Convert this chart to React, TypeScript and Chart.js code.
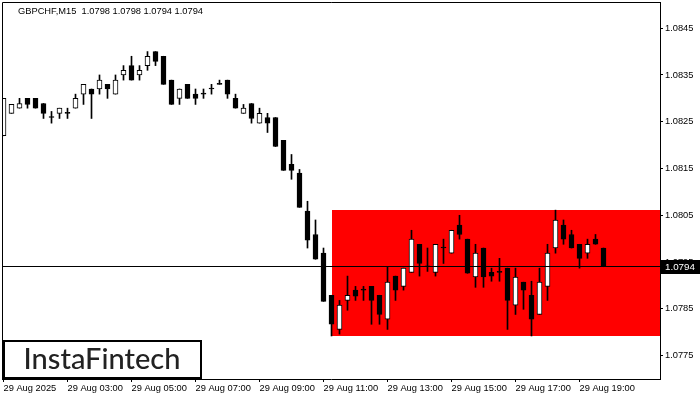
import React, { useEffect, useRef } from "react";
import { Chart, registerables } from "chart.js";

Chart.register(...registerables);

const SYMBOL = "GBPCHF,M15";

const opens = [
  1.0822, 1.08268, 1.08279, 1.083, 1.083, 1.08289, 1.08259, 1.08268, 1.08268, 1.08279,
  1.08309, 1.0832, 1.0832, 1.0833, 1.08309, 1.0835, 1.0837, 1.0835, 1.0837, 1.084,
  1.0839, 1.08339, 1.083, 1.0833, 1.08309, 1.08309, 1.0832, 1.0833, 1.08339, 1.083,
  1.08268, 1.08289, 1.08247, 1.08259, 1.08259, 1.0821, 1.08159, 1.0814, 1.08059, 1.08009,
  1.07969, 1.07879, 1.07806, 1.07868, 1.0789, 1.0789, 1.07898, 1.07879, 1.07828, 1.0792,
  1.07898, 1.07928, 1.07988, 1.0794, 1.07928, 1.0798, 1.07969, 1.08029, 1.07999, 1.07918,
  1.0798, 1.07928, 1.07928, 1.07937, 1.07858, 1.07907, 1.07879, 1.07838, 1.07898, 1.0798,
  1.08029, 1.08009, 1.07988, 1.07969, 1.07999, 1.0798,
];
const highs = [
  1.083, 1.08287, 1.083, 1.083, 1.083, 1.08289, 1.08272, 1.08279, 1.08279, 1.08309,
  1.0833, 1.0832, 1.0835, 1.0833, 1.0835, 1.0837, 1.0839, 1.0837, 1.084, 1.084,
  1.0839, 1.08339, 1.0832, 1.0833, 1.0832, 1.0832, 1.0833, 1.08339, 1.08339, 1.08309,
  1.08287, 1.08289, 1.08279, 1.08268, 1.08259, 1.0821, 1.0818, 1.08148, 1.0808, 1.0804,
  1.0798, 1.07879, 1.07868, 1.0792, 1.07898, 1.07898, 1.07898, 1.07879, 1.0794, 1.0792,
  1.07937, 1.08018, 1.07988, 1.0798, 1.07988, 1.07999, 1.08018, 1.0805, 1.07999, 1.07988,
  1.0798, 1.07937, 1.07958, 1.07937, 1.07937, 1.07907, 1.07909, 1.07937, 1.07988, 1.08061,
  1.0804, 1.08018, 1.07988, 1.07999, 1.08009, 1.0798,
];
const lows = [
  1.0822, 1.08268, 1.08279, 1.08279, 1.08279, 1.08257, 1.08247, 1.08257, 1.08257, 1.08279,
  1.08287, 1.08257, 1.08309, 1.083, 1.08309, 1.08339, 1.08339, 1.08339, 1.0836, 1.0837,
  1.0833, 1.08287, 1.08287, 1.083, 1.08287, 1.083, 1.08309, 1.0833, 1.083, 1.08279,
  1.08268, 1.08247, 1.08247, 1.08227, 1.08197, 1.08146, 1.08127, 1.08067, 1.0798, 1.07956,
  1.07866, 1.07792, 1.07796, 1.07847, 1.07868, 1.07868, 1.07817, 1.07817, 1.07806, 1.07868,
  1.0789, 1.07928, 1.0792, 1.0793, 1.0792, 1.07947, 1.07969, 1.07999, 1.07926, 1.07896,
  1.07896, 1.07909, 1.07909, 1.07806, 1.07838, 1.07849, 1.07792, 1.07838, 1.07868, 1.07969,
  1.07988, 1.0798, 1.07937, 1.07958, 1.07988, 1.0794,
];
const closes = [
  1.083, 1.08287, 1.08289, 1.08287, 1.08279, 1.08268, 1.08259, 1.08279, 1.08268, 1.083,
  1.0833, 1.08309, 1.08339, 1.0832, 1.08339, 1.0836, 1.08339, 1.0836, 1.0839, 1.08379,
  1.0833, 1.08287, 1.0832, 1.083, 1.083, 1.08309, 1.0832, 1.0833, 1.08309, 1.08279,
  1.08279, 1.08257, 1.08268, 1.08247, 1.08197, 1.08146, 1.08146, 1.08067, 1.07997, 1.07956,
  1.07866, 1.07817, 1.07858, 1.07879, 1.07877, 1.0789, 1.07868, 1.07838, 1.07907, 1.0789,
  1.07937, 1.07999, 1.07947, 1.0794, 1.07988, 1.0798, 1.08018, 1.08009, 1.07926, 1.07969,
  1.07918, 1.0792, 1.07928, 1.07868, 1.07918, 1.0789, 1.07828, 1.07907, 1.07969, 1.0804,
  1.07999, 1.0798, 1.07958, 1.07988, 1.07988, 1.0794,
];

const xTickIndex = [0, 8, 16, 24, 32, 40, 48, 56, 64, 72];
const xTickLabels = [
  "29 Aug 2025", "29 Aug 03:00", "29 Aug 05:00", "29 Aug 07:00", "29 Aug 09:00",
  "29 Aug 11:00", "29 Aug 13:00", "29 Aug 15:00", "29 Aug 17:00", "29 Aug 19:00",
];
const yTickValues = [1.0775, 1.0785, 1.0795, 1.0805, 1.0815, 1.0825, 1.0835, 1.0845];

const Y_MIN = 1.077;
const Y_MAX = 1.08506;
const X_MIN = -0.1875;
const X_MAX = 82.0625;

const BID = 1.0794;
const ZONE_START = 41;
const ZONE_TOP = 1.08061;
const ZONE_BOTTOM = 1.07792;

const FONT = "Liberation Sans";
const FONT_SIZE = 9.3;

const overlayPlugin = {
  id: "overlay",
  beforeDraw(chart: any) {
    const ctx = chart.ctx;
    ctx.save();
    ctx.fillStyle = "#ffffff";
    ctx.fillRect(0, 0, chart.width, chart.height);
    ctx.restore();
  },
  beforeDatasetsDraw(chart: any) {
    const { ctx, chartArea: a, scales } = chart;
    const x0 = Math.round(scales.x.getPixelForValue(ZONE_START));
    const y0 = Math.round(scales.y.getPixelForValue(ZONE_TOP));
    const y1 = Math.round(scales.y.getPixelForValue(ZONE_BOTTOM));
    ctx.save();
    ctx.fillStyle = "#ff0000";
    ctx.fillRect(x0, y0, a.right - x0, y1 - y0);
    ctx.restore();
  },
  afterDatasetsDraw(chart: any) {
    const { ctx, chartArea: a, scales } = chart;
    const yb = Math.round(scales.y.getPixelForValue(BID)) - 0.5;
    ctx.save();
    ctx.strokeStyle = "#000";
    ctx.lineWidth = 1;
    ctx.beginPath();
    ctx.moveTo(a.left, yb);
    ctx.lineTo(a.right, yb);
    ctx.stroke();
    ctx.restore();
  },
  afterDraw(chart: any) {
    const { ctx, chartArea: a, scales } = chart;
    ctx.save();
    ctx.strokeStyle = "#000";
    ctx.lineWidth = 1;
    ctx.beginPath();
    ctx.moveTo(a.left + 0.5, a.bottom);
    ctx.lineTo(a.left + 0.5, a.top + 0.5);
    ctx.lineTo(a.right + 1, a.top + 0.5);
    ctx.stroke();

    const yb = scales.y.getPixelForValue(BID);
    ctx.fillStyle = "#000";
    ctx.fillRect(a.right + 1, Math.round(yb) - 7, chart.width - a.right - 1, 14);
    ctx.fillStyle = "#fff";
    ctx.font = `${FONT_SIZE + 0.5}px "${FONT}"`;
    ctx.textBaseline = "middle";
    ctx.textAlign = "left";
    ctx.fillText(BID.toFixed(4), a.right + 5, Math.round(yb));

    const n = opens.length - 1;
    ctx.fillStyle = "#000";
    ctx.font = `${FONT_SIZE}px "${FONT}"`;
    ctx.fillText(
      `${SYMBOL}  ${opens[n].toFixed(4)} ${highs[n].toFixed(4)} ${lows[n].toFixed(4)} ${closes[n].toFixed(4)}`,
      18,
      11
    );

    ctx.fillStyle = "#fff";
    ctx.fillRect(4, 341, 197, 37);
    ctx.strokeStyle = "#000";
    ctx.lineWidth = 2;
    ctx.strokeRect(4, 341, 197, 37);
    ctx.fillStyle = "#222";
    ctx.font = `500 29px "Lato"`;
    ctx.textAlign = "center";
    ctx.textBaseline = "middle";
    ctx.fillText("InstaFintech", 102, 360);
    ctx.restore();
  },
};

export default function App() {
  const ref = useRef<HTMLCanvasElement | null>(null);

  useEffect(() => {
    if (!ref.current) return;
    const bodies = opens.map((o, i) => ({ x: i, y: [o, closes[i]] }));
    const wicks = lows.map((l, i) => ({ x: i, y: [l, highs[i]] }));
    const bodyColors = opens.map((o, i) => (closes[i] > o ? "#ffffff" : "#000000"));

    const chart = new Chart(ref.current, {
      type: "bar",
      data: {
        datasets: [
          {
            data: bodies as any,
            backgroundColor: bodyColors,
            borderColor: "#000000",
            borderWidth: 1,
            borderSkipped: false,
            barThickness: 5,
            minBarLength: 1,
            grouped: false,
            order: 1,
          } as any,
          {
            data: wicks as any,
            backgroundColor: "#000000",
            borderWidth: 0,
            barThickness: 1,
            grouped: false,
            order: 2,
          } as any,
        ],
      },
      options: {
        responsive: false,
        animation: false,
        devicePixelRatio: 1,
        layout: { padding: { left: 2, top: 2, right: 0, bottom: 0 } },
        plugins: {
          legend: { display: false },
          tooltip: { enabled: false },
        },
        scales: {
          x: {
            type: "linear",
            min: X_MIN,
            max: X_MAX,
            offset: false,
            afterBuildTicks: (s: any) => {
              s.ticks = xTickIndex.map((v) => ({ value: v }));
            },
            afterFit: (s: any) => {
              s.height = 21;
              s.paddingLeft = 0;
              s.paddingRight = 0;
            },
            grid: {
              display: true,
              drawOnChartArea: false,
              drawTicks: true,
              tickLength: 3,
              color: "#000",
              offset: false,
            },
            border: { display: true, color: "#000", width: 1 },
            ticks: {
              autoSkip: false,
              maxRotation: 0,
              minRotation: 0,
              align: "start",
              padding: 1,
              color: "#000",
              font: { family: FONT, size: FONT_SIZE },
              callback: (_v: any, i: number) => xTickLabels[i],
            },
          },
          y: {
            type: "linear",
            position: "right",
            min: Y_MIN,
            max: Y_MAX,
            afterBuildTicks: (s: any) => {
              s.ticks = yTickValues.map((v) => ({ value: v }));
            },
            afterFit: (s: any) => {
              s.width = 40;
              s.paddingTop = 0;
              s.paddingBottom = 0;
            },
            grid: {
              display: true,
              drawOnChartArea: false,
              drawTicks: true,
              tickLength: 3,
              color: "#000",
            },
            border: { display: true, color: "#000", width: 1 },
            ticks: {
              autoSkip: false,
              padding: 2,
              color: "#000",
              font: { family: FONT, size: FONT_SIZE },
              callback: (v: any) => Number(v).toFixed(4),
            },
          },
        },
      } as any,
      plugins: [overlayPlugin],
    });
    return () => chart.destroy();
  }, []);

  return (
    <div style={{ position: "absolute", left: 0, top: 0, width: 700, height: 400 }}>
      <canvas ref={ref} width={700} height={400} style={{ display: "block" }} />
    </div>
  );
}
